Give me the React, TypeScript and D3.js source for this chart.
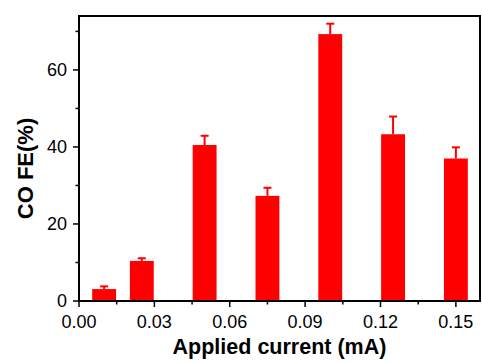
import React from "react";
import * as d3 from "d3";

const currents = [0.01, 0.025, 0.05, 0.075, 0.1, 0.125, 0.15];
const coFE = [3.1, 10.4, 40.5, 27.3, 69.3, 43.3, 37.0];
const coErr = [0.7, 0.7, 2.4, 2.1, 2.7, 4.6, 2.9];
const xMajorTicks = [0, 0.03, 0.06, 0.09, 0.12, 0.15];
const xMinorTicks = [0.015, 0.045, 0.075, 0.105, 0.135];
const yMajorTicks = [0, 20, 40, 60];
const yMinorTicks = [10, 30, 50, 70];

const W = 482;
const H = 363;
const L = 79, R = 480, T = 16, B = 301;
const FONT = "'Liberation Sans', Arial, Helvetica, sans-serif";
const RED = "#ff0000";

export default function App() {
  const x = d3.scaleLinear().domain([0, 0.1596]).range([L, R]);
  const y = d3.scaleLinear().domain([0, 74]).range([B, T]);
  const barW = x(0.0095) - x(0);
  const capW = 8;

  return (
    <svg width={W} height={H} style={{ position: "fixed", left: 0, top: 0, background: "#fff" }}>
      <rect x={0} y={0} width={W} height={H} fill="#fff" />
      {currents.map((c, i) => (
        <g key={i}>
          <rect x={x(c) - barW / 2} y={y(coFE[i])} width={barW} height={y(0) - y(coFE[i])} fill={RED} />
          <line x1={x(c)} x2={x(c)} y1={y(coFE[i])} y2={y(coFE[i] + coErr[i])} stroke={RED} strokeWidth={2} />
          <line x1={x(c) - capW / 2} x2={x(c) + capW / 2} y1={y(coFE[i] + coErr[i])} y2={y(coFE[i] + coErr[i])} stroke={RED} strokeWidth={2} />
        </g>
      ))}
      <rect x={L} y={T} width={R - L} height={B - T} fill="none" stroke="#000" strokeWidth={2} />
      {xMajorTicks.map((t, i) => (
        <g key={"xm" + i}>
          <line x1={x(t)} x2={x(t)} y1={B} y2={B + 6} stroke="#000" strokeWidth={1.5} />
          <text x={x(t)} y={328} textAnchor="middle" fontFamily={FONT} fontSize={18} fill="#000">
            {d3.format(".2f")(t)}
          </text>
        </g>
      ))}
      {xMinorTicks.map((t, i) => (
        <line key={"xn" + i} x1={x(t)} x2={x(t)} y1={B} y2={B + 3.5} stroke="#000" strokeWidth={1.5} />
      ))}
      {yMajorTicks.map((t, i) => (
        <g key={"ym" + i}>
          <line x1={L - 6} x2={L} y1={y(t)} y2={y(t)} stroke="#000" strokeWidth={1.5} />
          <text x={67} y={y(t)} dy="0.35em" textAnchor="end" fontFamily={FONT} fontSize={18} fill="#000">
            {t}
          </text>
        </g>
      ))}
      {yMinorTicks.map((t, i) => (
        <line key={"yn" + i} x1={L - 3.5} x2={L} y1={y(t)} y2={y(t)} stroke="#000" strokeWidth={1.5} />
      ))}
      <text x={(L + R) / 2} y={354} textAnchor="middle" fontFamily={FONT} fontWeight="bold" fontSize={21.5} fill="#000">
        Applied current (mA)
      </text>
      <text transform={`translate(33,168.5) rotate(-90)`} textAnchor="middle" fontFamily={FONT} fontWeight="bold" fontSize={22} fill="#000">
        CO FE(%)
      </text>
    </svg>
  );
}
